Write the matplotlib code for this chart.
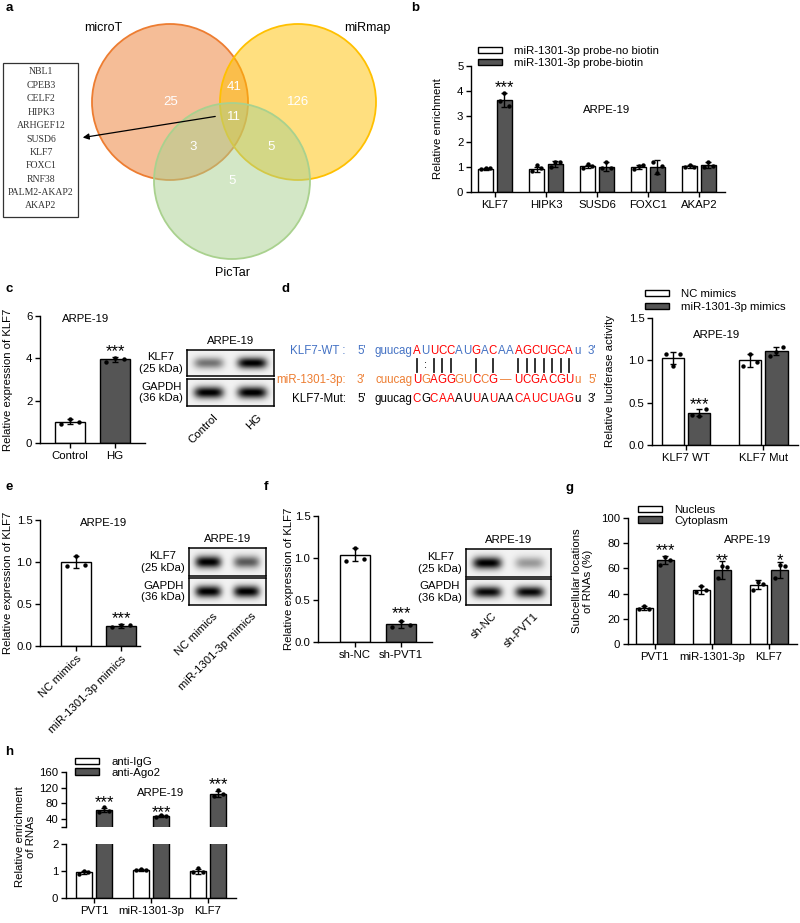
import matplotlib.pyplot as plt
import matplotlib.transforms as mtransforms
import numpy as np
from matplotlib.patches import Circle, Rectangle, Patch

plt.rcParams['font.family'] = ['Liberation Sans', 'DejaVu Sans']

W, H = 800, 923
WHITE = 'white'
DARK = '#555555'
FS = 8.2

# ---------------- data ----------------
# a: venn
venn_sets = ['microT', 'miRmap', 'PicTar']
venn_counts = [25, 41, 126, 11, 3, 5, 5]   # microT, mT&miR, miRmap, all, mT&Pic, miR&Pic, PicTar
venn_genes = ['NBL1', 'CPEB3', 'CELF2', 'HIPK3', 'ARHGEF12', 'SUSD6', 'KLF7',
              'FOXC1', 'RNF38', 'PALM2-AKAP2', 'AKAP2']

# b: pull-down
b_genes = ['KLF7', 'HIPK3', 'SUSD6', 'FOXC1', 'AKAP2']
b_labels = ['miR-1301-3p probe-no biotin', 'miR-1301-3p probe-biotin']
b_nobio = [0.93, 0.90, 1.02, 1.00, 1.02]
b_nobio_sd = [0.04, 0.10, 0.06, 0.07, 0.05]
b_nobio_pts = [[0.90, 0.94, 0.95], [0.85, 1.06, 0.95], [0.97, 1.10, 1.04],
               [0.93, 1.05, 1.06], [1.00, 1.08, 1.00]]
b_bio = [3.65, 1.12, 1.01, 1.00, 1.08]
b_bio_sd = [0.28, 0.12, 0.17, 0.27, 0.12]
b_bio_pts = [[3.62, 3.93, 3.42], [1.00, 1.20, 1.20], [0.95, 1.20, 0.95],
             [1.20, 0.75, 1.05], [1.00, 1.20, 1.05]]
b_stars = ['***', '', '', '', '']
b_star_y = [4.3, 0, 0, 0, 0]

# c: HG
c_groups = ['Control', 'HG']
c_mean = [1.00, 3.95]
c_sd = [0.12, 0.12]
c_pts = [[0.88, 1.12, 1.00], [3.85, 4.02, 3.95]]
c_blot_klf7 = [0.5, 0.97]
c_blot_gapdh = [0.97, 0.98]

# d: sequences and luciferase
seq_wt = 'AUUCCAUGACAAAGCUGCA'
seq_wt_col = 'rbrrrbbrbrbbrrrrrrr'
seq_mir = ['U', 'G', 'A', 'G', 'G', 'G', 'U', 'C', 'C', 'G', '\u2014', '', 'U', 'C', 'G', 'A', 'C', 'G', 'U']
seq_mir_col = 'rorrroororoorrrrrrr'
seq_mut = 'CGCAAAUUAUAACAUCUAG'
seq_mut_col = 'rkrrrkkrkrkkrrrrrrr'
seq_pairs = '|:|||  | |  |||||||'

d_groups = ['KLF7 WT', 'KLF7 Mut']
d_labels = ['NC mimics', 'miR-1301-3p mimics']
d_nc = [1.03, 1.00]
d_nc_sd = [0.07, 0.08]
d_nc_pts = [[1.08, 0.93, 1.08], [0.93, 1.07, 0.98]]
d_mim = [0.38, 1.11]
d_mim_sd = [0.04, 0.05]
d_mim_pts = [[0.36, 0.34, 0.42], [1.05, 1.10, 1.16]]

# e: mimics
e_groups = ['NC mimics', 'miR-1301-3p mimics']
e_mean = [1.00, 0.24]
e_sd = [0.07, 0.02]
e_pts = [[0.95, 1.07, 0.97], [0.23, 0.25, 0.25]]
e_blot_klf7 = [0.97, 0.6]
e_blot_gapdh = [0.97, 0.97]

# f: sh-PVT1
f_groups = ['sh-NC', 'sh-PVT1']
f_mean = [1.04, 0.21]
f_sd = [0.08, 0.04]
f_pts = [[0.97, 1.12, 0.99], [0.18, 0.25, 0.20]]
f_blot_klf7 = [0.97, 0.35]
f_blot_gapdh = [0.93, 0.93]

# g: subcellular
g_rnas = ['PVT1', 'miR-1301-3p', 'KLF7']
g_labels = ['Nucleus', 'Cytoplasm']
g_nuc = [28.5, 43.0, 47.0]
g_nuc_sd = [1.5, 3.0, 3.5]
g_nuc_pts = [[28, 30, 28], [41, 46, 43], [43, 49, 48]]
g_cyt = [66.5, 58.5, 58.5]
g_cyt_sd = [3.0, 7.0, 6.5]
g_cyt_pts = [[63, 69, 67], [52, 62, 61], [52, 63, 62]]
g_stars = ['***', '**', '*']
g_star_y = [77, 69, 69]

# h: RIP
h_rnas = ['PVT1', 'miR-1301-3p', 'KLF7']
h_labels = ['anti-IgG', 'anti-Ago2']
h_igg = [0.95, 1.04, 0.99]
h_igg_sd = [0.06, 0.03, 0.10]
h_igg_pts = [[0.90, 1.00, 0.95], [1.02, 1.06, 1.04], [0.95, 1.10, 0.97]]
h_ago = [63, 48, 104]
h_ago_sd = [6, 2, 8]
h_ago_pts = [[58, 70, 62], [46, 50, 48], [98, 113, 103]]
h_star_y = [91, 68, 137]

# ---------------- helpers ----------------
fig = plt.figure(figsize=(W / 100, H / 100), dpi=100)


def fx(x):
    return x / W


def fy(y):
    return 1 - y / H


def rect(x0, y0, x1, y1):
    return [x0 / W, 1 - y1 / H, (x1 - x0) / W, (y1 - y0) / H]


def txt(x, y, s, **kw):
    kw.setdefault('fontsize', FS)
    kw.setdefault('ha', 'center')
    kw.setdefault('va', 'center')
    fig.text(fx(x), fy(y), s, **kw)


def ylab(xr, yc, s):
    fig.text(fx(xr), fy(yc), s, rotation=90, ha='right', va='center',
             multialignment='center', fontsize=FS, linespacing=1.1)


def style(ax):
    for s in ['top', 'right']:
        ax.spines[s].set_visible(False)
    for s in ['left', 'bottom']:
        ax.spines[s].set_linewidth(1)
    ax.tick_params(direction='out', length=3.5, width=1, labelsize=FS, pad=2)
    ax.set_facecolor('none')


def bars(ax, x, mean, sd, pts, color, width):
    x = np.asarray(x, dtype=float)
    ax.bar(x, mean, width, color=color, edgecolor='black', linewidth=1, zorder=2)
    ax.errorbar(x, mean, yerr=sd, fmt='none', ecolor='black', elinewidth=1,
                capsize=2.5, capthick=1, zorder=3)
    for xi, p in zip(x, pts):
        ax.scatter(xi + np.array([-0.3, 0, 0.3]) * width, p, s=10, color='black',
                   zorder=4, linewidths=0)


def stars(ax, x, y, s):
    tr = mtransforms.offset_copy(ax.transData, fig=fig, x=0, y=-4, units='dots')
    ax.text(x, y, s, ha='center', va='center', fontsize=12, transform=tr)


def legend(ax, labels, x, y, spacing=0.25):
    handles = [Patch(facecolor=WHITE, edgecolor='black', linewidth=1),
               Patch(facecolor=DARK, edgecolor='black', linewidth=1)]
    ax.legend(handles, labels, loc='upper left', bbox_to_anchor=(fx(x), fy(y)),
              bbox_transform=fig.transFigure, frameon=False, fontsize=FS,
              handlelength=2.1, handleheight=0.45, handletextpad=1.1,
              labelspacing=spacing, borderpad=0, borderaxespad=0)


def blot(x0, x1, yk, yg, klf7, gapdh, lanes, title):
    for (ya, yb), ints in [(yk, klf7), (yg, gapdh)]:
        ax = fig.add_axes(rect(x0, ya, x1, yb))
        nx, ny = 240, 60
        xx, yy = np.meshgrid(np.linspace(0, 1, nx), np.linspace(0, 1, ny))
        n = len(ints)
        dens = np.zeros_like(xx)
        for i, a in enumerate(ints):
            c = (i + 0.5) / n
            dens += a * np.exp(-np.abs((xx - c) / (0.34 / n)) ** 4) * np.exp(-((yy - 0.5) / 0.22) ** 2)
        img = np.clip(0.95 - 1.0 * dens, 0, 1)
        ax.imshow(img, cmap='gray', vmin=0, vmax=1, aspect='auto', interpolation='bilinear')
        ax.set_xticks([])
        ax.set_yticks([])
        for s in ax.spines.values():
            s.set_linewidth(1.1)
    txt((x0 + x1) / 2, yk[0] - 9, title)
    txt(x0 - 4, (yk[0] + yk[1]) / 2, 'KLF7\n(25 kDa)', ha='right', multialignment='center', linespacing=1.15)
    txt(x0 - 4, (yg[0] + yg[1]) / 2, 'GAPDH\n(36 kDa)', ha='right', multialignment='center', linespacing=1.15)
    n = len(lanes)
    for i, lab in enumerate(lanes):
        lx = x0 + (x1 - x0) * (i + 0.5) / n + 4
        fig.text(fx(lx), fy(yg[1] + 6), lab, rotation=45, ha='right', va='top',
                 rotation_mode='anchor', fontsize=FS)


def letter(x, y, s):
    txt(x, y, s, fontsize=9.5, fontweight='bold', ha='left')


# ---------------- a: venn ----------------
ax = fig.add_axes(rect(0, 0, 400, 285))
ax.set_xlim(0, 400)
ax.set_ylim(285, 0)
ax.axis('off')
circles = [((170, 102), 78, '#ED7D31'),
           ((298, 102), 78, '#FFC000'),
           ((232, 181), 78, '#A9D18E')]
for (c, r, col) in circles:
    ax.add_patch(Circle(c, r, facecolor=col, alpha=0.5, edgecolor='none'))
    ax.add_patch(Circle(c, r, facecolor='none', edgecolor=col, linewidth=1.3))
count_pos = [(171, 102), (234, 87), (298, 102), (234, 117), (193, 147), (271, 147), (232, 181)]
for (px, py), v in zip(count_pos, venn_counts):
    ax.text(px, py, str(v), color='white', fontsize=9.5, ha='center', va='center')
for (px, py), s in zip([(103, 28), (367, 28), (232, 273)], venn_sets):
    ax.text(px, py, s, fontsize=9, ha='center', va='center')
ax.add_patch(Rectangle((3, 63), 75, 154, facecolor='white', edgecolor='#333333', linewidth=0.9))
for i, g in enumerate(venn_genes):
    ax.text(41, 72 + 13.4 * i, g, fontsize=7, ha='center', va='center',
            family='Liberation Serif', color='#333333')
ax.annotate('', xy=(80, 138), xytext=(218, 116),
            arrowprops=dict(arrowstyle='-|>', color='black', lw=0.9, mutation_scale=9))
letter(6, 8, 'a')

# ---------------- b ----------------
ax = fig.add_axes(rect(471, 66, 725, 192))
style(ax)
x = np.arange(len(b_genes))
bars(ax, x - 0.18, b_nobio, b_nobio_sd, b_nobio_pts, WHITE, 0.29)
bars(ax, x + 0.18, b_bio, b_bio_sd, b_bio_pts, DARK, 0.29)
for xi, s, yv in zip(x, b_stars, b_star_y):
    if s:
        stars(ax, xi + 0.18, yv, s)
ax.set_xlim(-0.47, 4.51)
ax.set_ylim(0, 5)
ax.set_yticks(range(6))
ax.set_xticks(x)
ax.set_xticklabels(b_genes)
legend(ax, b_labels, 478, 46, spacing=0.2)
txt(607, 110, 'ARPE-19')
ylab(443, 129, 'Relative enrichment')
letter(411, 8, 'b')

# ---------------- c ----------------
ax = fig.add_axes(rect(40, 316, 145, 443))
style(ax)
bars(ax, [0, 1], c_mean, c_sd, c_pts, [WHITE, DARK], 0.67)
stars(ax, 1, 4.49, '***')
ax.set_xlim(-0.667, 1.667)
ax.set_ylim(0, 6)
ax.set_yticks([0, 2, 4, 6])
ax.set_xticks([0, 1])
ax.set_xticklabels(c_groups)
txt(86, 319, 'ARPE-19')
ylab(13, 380, 'Relative expression of KLF7')
blot(187, 274, (350, 376), (379, 406), c_blot_klf7, c_blot_gapdh, c_groups, 'ARPE-19')
letter(5, 289, 'c')

# ---------------- d ----------------
letter(281, 289, 'd')
COLS = {'r': '#FF0000', 'b': '#4472C4', 'o': '#ED7D31', 'k': 'black'}
rows = [(351, 'KLF7-WT :', "5'", 'guucag', list(seq_wt), seq_wt_col, 'u', "3'", COLS['b']),
        (380, 'miR-1301-3p:', "3'", 'cuucag', seq_mir, seq_mir_col, 'u', "5'", COLS['o']),
        (399, 'KLF7-Mut:', "5'", 'guucag', list(seq_mut), seq_mut_col, 'u', "3'", COLS['k'])]
step = 8.45
x_start = 417
SFS = 8.3
for (yy, name, e1, pre, seq, cols, post, e2, base) in rows:
    txt(346, yy, name, ha='right', color=base, fontsize=SFS)
    txt(357, yy, e1, ha='left', color=base, fontsize=SFS)
    txt(412.5, yy, pre, ha='right', color=base, fontsize=SFS)
    for i, (ch, cc) in enumerate(zip(seq, cols)):
        if ch == '':
            continue
        xx = x_start + step * i
        if ch == '\u2014':
            xx += step / 2
        txt(xx, yy, ch, color=COLS[cc] if cc != 'o' else base, fontsize=SFS)
    txt(x_start + step * 18.5 + 0.5, yy, post, ha='left', color=base, fontsize=SFS)
    txt(588, yy, e2, ha='left', color=base, fontsize=SFS)
for i, p in enumerate(seq_pairs):
    xx = x_start + step * i
    if p == '|':
        fig.add_artist(plt.Line2D([fx(xx), fx(xx)], [fy(359), fy(372)], color='#222222', lw=1.3))
    elif p == ':':
        txt(xx, 365, ':', fontsize=8)

ax = fig.add_axes(rect(652, 318, 798, 445))
style(ax)
x = np.arange(2)
bars(ax, x - 0.17, d_nc, d_nc_sd, d_nc_pts, WHITE, 0.29)
bars(ax, x + 0.17, d_mim, d_mim_sd, d_mim_pts, DARK, 0.29)
stars(ax, 0.17, 0.53, '***')
ax.set_xlim(-0.44, 1.45)
ax.set_ylim(0, 1.5)
ax.set_yticks([0, 0.5, 1.0, 1.5])
ax.set_yticklabels(['0.0', '0.5', '1.0', '1.5'])
ax.set_xticks(x)
ax.set_xticklabels(d_groups)
legend(ax, d_labels, 645, 289, spacing=0.3)
txt(717, 335, 'ARPE-19')
ylab(615, 381, 'Relative luciferase activity')

# ---------------- e ----------------
ax = fig.add_axes(rect(40, 520, 140, 646))
style(ax)
bars(ax, [0, 1], e_mean, e_sd, e_pts, [WHITE, DARK], 0.66)
stars(ax, 1, 0.37, '***')
ax.set_xlim(-0.8, 1.42)
ax.set_ylim(0, 1.5)
ax.set_yticks([0, 0.5, 1.0, 1.5])
ax.set_yticklabels(['0.0', '0.5', '1.0', '1.5'])
ax.set_xticks([0, 1])
ax.set_xticklabels(e_groups, rotation=45, ha='right', rotation_mode='anchor')
txt(104, 523, 'ARPE-19')
ylab(13, 583, 'Relative expression of KLF7')
blot(189, 266, (548, 576), (578, 605), e_blot_klf7, e_blot_gapdh, e_groups, 'ARPE-19')
letter(5, 487, 'e')

# ---------------- f ----------------
ax = fig.add_axes(rect(318, 516, 432, 642))
style(ax)
bars(ax, [0, 1], f_mean, f_sd, f_pts, [WHITE, DARK], 0.65)
stars(ax, 1, 0.38, '***')
ax.set_xlim(-0.804, 1.674)
ax.set_ylim(0, 1.5)
ax.set_yticks([0, 0.5, 1.0, 1.5])
ax.set_yticklabels(['0.0', '0.5', '1.0', '1.5'])
ax.set_xticks([0, 1])
ax.set_xticklabels(f_groups)
ylab(294, 579, 'Relative expression of KLF7')
blot(466, 551, (549, 577), (579, 605), f_blot_klf7, f_blot_gapdh, f_groups, 'ARPE-19')
letter(264, 487, 'f')

# ---------------- g ----------------
ax = fig.add_axes(rect(628, 518, 797, 644))
style(ax)
x = np.arange(3)
bars(ax, x - 0.185, g_nuc, g_nuc_sd, g_nuc_pts, WHITE, 0.29)
bars(ax, x + 0.185, g_cyt, g_cyt_sd, g_cyt_pts, DARK, 0.29)
for xi, s, yv in zip(x, g_stars, g_star_y):
    stars(ax, xi + 0.185, yv, s)
ax.set_xlim(-0.47, 2.49)
ax.set_ylim(0, 100)
ax.set_yticks(range(0, 101, 20))
ax.set_xticks(x)
ax.set_xticklabels(g_rnas)
legend(ax, g_labels, 638, 505, spacing=0.05)
txt(748, 540, 'ARPE-19')
ylab(593, 581, 'Subcellular locations\nof RNAs (%)')
letter(566, 488, 'g')

# ---------------- h ----------------
ax_t = fig.add_axes(rect(66, 772, 236, 827))
ax_b = fig.add_axes(rect(66, 844, 236, 898))
x = np.arange(3)
for a in (ax_t, ax_b):
    style(a)
    bars(a, x - 0.18, h_igg, h_igg_sd, h_igg_pts, WHITE, 0.28)
    bars(a, x + 0.18, h_ago, h_ago_sd, h_ago_pts, DARK, 0.28)
    a.set_xlim(-0.49, 2.49)
ax_t.set_ylim(20, 160)
ax_t.set_yticks([20, 40, 80, 120, 160])
ax_t.set_yticklabels(['', '40', '80', '120', '160'])
ax_t.spines['bottom'].set_visible(False)
ax_t.set_xticks([])
for xi, yv in zip(x, h_star_y):
    stars(ax_t, xi + 0.18, yv, '***')
ax_b.set_ylim(0, 2)
ax_b.set_yticks([0, 1, 2])
ax_b.set_xticks(x)
ax_b.set_xticklabels(h_rnas)
legend(ax_t, h_labels, 75, 757, spacing=0.05)
txt(161, 793, 'ARPE-19')
ylab(36, 837, 'Relative enrichment\nof RNAs')
letter(5, 752, 'h')

fig.savefig('out.png', dpi=100)
